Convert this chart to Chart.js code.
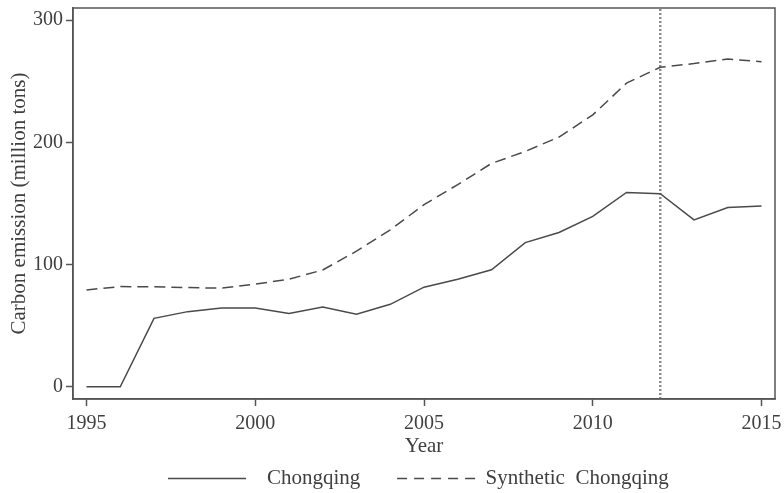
<!DOCTYPE html>
<html>
<head>
<meta charset="utf-8">
<script src="https://cdn.jsdelivr.net/npm/chart.js@4.4.1/dist/chart.umd.min.js"></script>
<style>
  html, body { margin: 0; padding: 0; background: #fff; }
  #wrap { width: 784px; height: 493px; }
</style>
</head>
<body>
<div id="wrap"><canvas id="chart" width="784" height="493"></canvas></div>
<script>
// years on the x axis
const years = [1995, 1996, 1997, 1998, 1999, 2000, 2001, 2002, 2003, 2004, 2005,
               2006, 2007, 2008, 2009, 2010, 2011, 2012, 2013, 2014, 2015];
// actual Chongqing emissions (million tons)
const chongqing = [0, 0, 56, 61.5, 64.5, 64.5, 60, 65.3, 59.3, 67.5, 81.5,
                   88, 95.8, 118, 126.3, 139.5, 159, 158, 136.6, 146.7, 148];
// synthetic control
const synthetic = [79.3, 82, 81.8, 81.2, 80.7, 84, 88, 95.6, 111, 128.4, 149,
                   165.5, 182.8, 192.6, 204.4, 222.5, 248.5, 261.5, 264.5, 268.3, 266];
const xTicks = [1995, 2000, 2005, 2010, 2015];
const yTicks = [0, 100, 200, 300];
const policyYear = 2012;

const ink = "#3f3f3f";
const serif = "'Liberation Serif', 'DejaVu Serif', serif";
const LEGEND_START = 168; // x of first legend key
const LEGEND_DROP = 6;    // push legend row a bit lower

const toPts = (vals) => years.map((y, i) => ({ x: y, y: vals[i] }));

// full frame around the plot area + nudge the legend row
const frame = {
  id: "frame",
  afterLayout(chart) {
    const lg = chart.legend;
    if (!lg || !lg.lineWidths) return;
    const start = (lg.left + lg.right - lg.lineWidths[0]) / 2;
    const d = LEGEND_START - start;
    lg.left += d;
    lg.right += d;
    lg.top += LEGEND_DROP;
    lg.bottom += LEGEND_DROP;
  },
  afterDraw(chart) {
    const { ctx, chartArea: a } = chart;
    ctx.save();
    ctx.strokeStyle = "#555";
    ctx.lineWidth = 1.5;
    ctx.strokeRect(a.left, a.top, a.right - a.left, a.bottom - a.top);
    ctx.restore();
  },
};

new Chart(document.getElementById("chart"), {
  type: "line",
  data: {
    datasets: [
      {
        label: "  Chongqing       ",
        data: toPts(chongqing),
        borderColor: "#4a4a4a",
        borderWidth: 1.5,
        pointRadius: 0,
        tension: 0,
      },
      {
        label: "Synthetic  Chongqing",
        data: toPts(synthetic),
        borderColor: "#4a4a4a",
        borderWidth: 1.5,
        borderDash: [11, 6],
        pointRadius: 0,
        tension: 0,
      },
      {
        label: "treatment",
        data: [{ x: policyYear, y: -10 }, { x: policyYear, y: 310 }],
        borderColor: "#8c8c8c",
        borderWidth: 2.5,
        borderDash: [2, 2],
        pointRadius: 0,
      },
    ],
  },
  options: {
    responsive: false,
    animation: false,
    layout: { padding: { top: 8, right: 9, left: 0, bottom: 0 } },
    plugins: {
      tooltip: { enabled: false },
      legend: {
        position: "bottom",
        labels: {
          filter: (item) => item.text !== "treatment",
          generateLabels: (chart) =>
            Chart.defaults.plugins.legend.labels.generateLabels(chart).map((it) => {
              const ds = chart.data.datasets[it.datasetIndex];
              it.lineDash = ds.borderDash ? [10, 7] : [];
              it.lineWidth = 1.5;
              it.strokeStyle = ds.borderColor;
              return it;
            }),
          usePointStyle: true,
          pointStyle: "line",
          pointStyleWidth: 78,
          color: ink,
          padding: 0,
          font: { family: serif, size: 21 },
        },
      },
    },
    scales: {
      x: {
        type: "linear",
        min: 1994.6,
        max: 2015.4,
        afterBuildTicks: (s) => { s.ticks = xTicks.map((v) => ({ value: v })); },
        afterFit: (s) => { s.height = 63; s.paddingLeft = 0; s.paddingRight = 0; },
        grid: { drawOnChartArea: false, tickLength: 7, tickColor: "#555", tickWidth: 1.5 },
        border: { color: "#555", width: 1.5 },
        ticks: {
          color: ink,
          padding: 6,
          maxRotation: 0,
          font: { family: serif, size: 20 },
          callback: (v) => String(v),
        },
        title: {
          display: true,
          text: "Year",
          color: ink,
          padding: { top: 0, bottom: 3 },
          font: { family: serif, size: 21 },
        },
      },
      y: {
        min: -10,
        max: 310,
        afterBuildTicks: (s) => { s.ticks = yTicks.map((v) => ({ value: v })); },
        afterFit: (s) => { s.width = 73; s.paddingTop = 0; s.paddingBottom = 0; },
        grid: { drawOnChartArea: false, tickLength: 7, tickColor: "#555", tickWidth: 1.5 },
        border: { color: "#555", width: 1.5 },
        ticks: {
          color: ink,
          padding: 3,
          font: { family: serif, size: 20 },
        },
        title: {
          display: true,
          text: "Carbon emission (million tons)",
          color: ink,
          padding: { top: 7, bottom: 0 },
          font: { family: serif, size: 21 },
        },
      },
    },
  },
  plugins: [frame],
});
</script>
</body>
</html>
